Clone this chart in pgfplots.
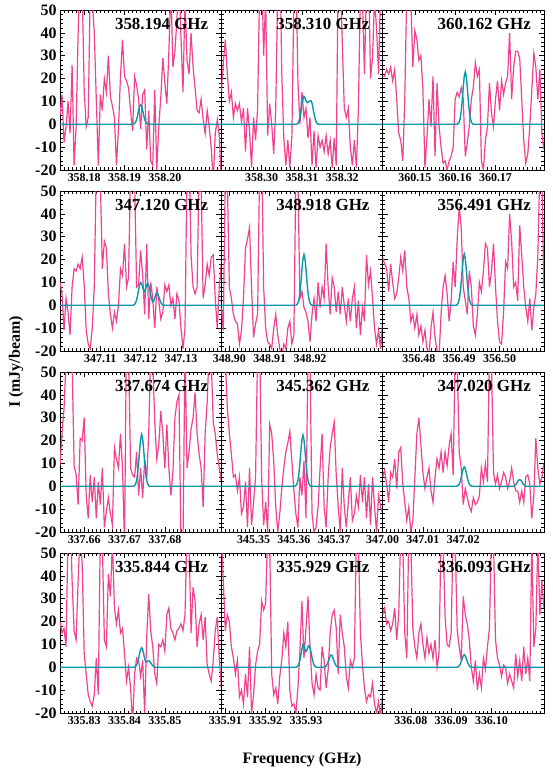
\documentclass[border=0pt]{standalone}
\usepackage{fontspec}
\setmainfont{Liberation Serif}
\usepackage{pgfplots}
\pgfplotsset{compat=1.18}

\definecolor{specpink}{RGB}{240,66,142}
\definecolor{modteal}{RGB}{10,150,172}

\pgfplotsset{
  panel/.style={
    scale only axis, width=161.3bp, height=160bp, anchor=north west,
    xmin=-20, xmax=20, ymin=-20, ymax=50,
    ytick={-20,-10,...,50},
    minor ytick={-20,-18,...,50}, minor xtick={-20,-19,...,20},
    tick align=inside, tick pos=both,
    major tick length=5bp, minor tick length=2.5bp,
    tick style={black, line width=0.6bp},
    axis line style={line width=0.8bp},
    /pgf/number format/assume math mode=true,
    yticklabel style={font=\fontsize{16}{16}\selectfont\bfseries},
    xticklabel style={font=\fontsize{12}{12}\selectfont\bfseries},
  },
  nolab/.style={yticklabel=\empty},
}
\tikzset{ptitle/.style={anchor=north east, inner sep=0pt, font=\fontsize{17}{17}\selectfont\bfseries}}

% spectrum: one value per 0.5 MHz channel, offset -20..20 MHz from the line centre
\newcommand{\spec}[1]{\addplot[specpink, line width=1.2bp] table[row sep=\\, header=false, x expr=\coordindex*0.5-20, y index=0] {#1};}
\newcommand{\model}[1]{\addplot[modteal, line width=1.4bp] coordinates {#1};}

\begin{document}
\begin{tikzpicture}
\useasboundingbox (0,0) rectangle (553bp,-775bp);

% ---- row 1
\begin{axis}[panel, at={(60bp,-10bp)}, xtick={-14,-4,6}, xticklabels={358.18,358.19,358.20}]
\spec{4\\13\\-8\\-1\\10\\-4\\26\\-18\\-1\\40\\70\\60\\15\\-1\\3\\60\\55\\40\\11\\-18\\13\\6\\20\\14\\30\\12\\8\\3\\-18\\-2\\21\\37\\21\\19\\16\\6\\-3\\21\\17\\11\\-2\\13\\15\\-11\\6\\-16\\-18\\15\\-20\\-1\\12\\29\\18\\9\\32\\60\\25\\32\\46\\65\\38\\14\\55\\28\\22\\40\\25\\16\\6\\5\\11\\2\\-4\\6\\-1\\-10\\-25\\-4\\2\\-5\\-25\\}
\model{(-20,0)(-2,0)(-1.75,0.1)(-1.5,0.4)(-1.25,1.0)(-1,2.1)(-0.75,3.9)(-0.5,6.1)(-0.25,7.9)(0,8.6)(0.25,7.9)(0.5,6.1)(0.75,3.9)(1,2.1)(1.25,1.0)(1.5,0.4)(1.75,0.1)(2,0)(20,0)}
\node[ptitle] at (rel axis cs:0.92,0.95) {358.194 GHz};
\end{axis}

\begin{axis}[panel, nolab, at={(221.3bp,-10bp)}, xtick={-10,0,10}, xticklabels={358.30,358.31,358.32}]
\spec{14\\27\\37\\22\\10\\14\\3\\9\\6\\9\\1\\7\\-12\\7\\-3\\-19\\3\\-7\\7\\60\\70\\30\\55\\-5\\9\\0\\-13\\7\\60\\80\\22\\-6\\-18\\-7\\-19\\-5\\55\\70\\19\\0\\14\\3\\7\\-6\\3\\-18\\-3\\-19\\-5\\-10\\-7\\-12\\-5\\-13\\-7\\-19\\-6\\-18\\70\\65\\36\\7\\3\\7\\-10\\-18\\-7\\-19\\7\\60\\55\\22\\60\\70\\20\\29\\55\\42\\22\\60\\55\\}
\model{(-20,0)(-1.25,0)(-1,0.5)(-0.75,1.4)(-0.5,3.0)(-0.25,5.5)(0,8.5)(0.25,11.0)(0.5,12.2)(0.75,11.6)(1,10.3)(1.25,9.6)(1.5,9.5)(1.75,9.9)(2,10.2)(2.25,10.3)(2.5,9.2)(2.75,7.1)(3,4.6)(3.25,2.5)(3.5,1.1)(3.75,0.4)(4,0.1)(4.25,0)(20,0)}
\node[ptitle] at (rel axis cs:0.92,0.95) {358.310 GHz};
\end{axis}

\begin{axis}[panel, nolab, at={(382.6bp,-10bp)}, xtick={-12,-2,8}, xticklabels={360.15,360.16,360.17}]
\spec{21\\21\\24\\22\\25\\19\\24\\11\\-4\\-7\\-16\\11\\60\\70\\55\\25\\41\\37\\28\\30\\15\\-19\\-6\\11\\-1\\21\\-14\\18\\-1\\-10\\-17\\-16\\-20\\-16\\-14\\-10\\11\\14\\12\\16\\11\\-14\\-8\\-1\\11\\16\\27\\21\\24\\-16\\-20\\-7\\-1\\18\\5\\-1\\11\\19\\6\\19\\13\\18\\21\\40\\11\\25\\32\\32\\29\\11\\-7\\-17\\-13\\-1\\15\\31\\25\\11\\24\\-4\\-11\\}
\model{(-20,0)(-1.5,0)(-1.25,0.3)(-1,1.0)(-0.75,2.6)(-0.5,5.7)(-0.25,10.5)(0,16.2)(0.25,21.0)(0.5,22.9)(0.75,21.0)(1,16.2)(1.25,10.5)(1.5,5.7)(1.75,2.6)(2,1.0)(2.25,0.3)(2.5,0)(20,0)}
\node[ptitle] at (rel axis cs:0.92,0.95) {360.162 GHz};
\end{axis}

% ---- row 2
\begin{axis}[panel, at={(60bp,-191bp)}, xtick={-10,0,10}, xticklabels={347.11,347.12,347.13}]
\spec{10\\5\\-11\\3\\-3\\-13\\8\\16\\15\\18\\16\\21\\9\\-11\\-17\\-19\\-10\\8\\60\\70\\55\\16\\28\\25\\5\\-4\\-10\\-3\\-7\\0\\16\\13\\27\\8\\12\\60\\75\\55\\8\\9\\24\\13\\-4\\27\\-6\\10\\3\\-10\\8\\2\\-6\\-3\\9\\6\\9\\0\\3\\-6\\5\\2\\-10\\-19\\-10\\60\\70\\22\\8\\5\\8\\60\\55\\3\\9\\18\\13\\21\\22\\3\\-10\\8\\18\\}
\model{(-20,0)(-2,0)(-1.75,0.1)(-1.5,0.4)(-1.25,1.1)(-1,2.4)(-0.75,4.5)(-0.5,6.9)(-0.25,9.0)(0,9.9)(0.25,9.4)(0.5,8.0)(0.75,6.6)(1,6.0)(1.25,7.3)(1.5,9.0)(1.75,9.6)(2,8.7)(2.25,6.8)(2.5,4.4)(2.75,2.5)(3,1.4)(3.25,1.8)(3.5,3.3)(3.75,4.8)(4,5.3)(4.25,4.9)(4.5,3.75)(4.75,2.4)(5,1.3)(5.25,0.6)(5.5,0.2)(5.75,0.1)(6,0)(20,0)}
\node[ptitle] at (rel axis cs:0.92,0.95) {347.120 GHz};
\end{axis}

\begin{axis}[panel, nolab, at={(221.3bp,-191bp)}, xtick={-18,-8,2}, xticklabels={348.90,348.91,348.92}]
\spec{-1\\-11\\60\\55\\8\\3\\-4\\-7\\-8\\-17\\-11\\3\\25\\29\\34\\8\\-14\\-8\\-4\\60\\70\\8\\-10\\-16\\-17\\-19\\-10\\-4\\-13\\-19\\-22\\-17\\-19\\-10\\-7\\-17\\-13\\60\\55\\3\\6\\-1\\-3\\-7\\-16\\-4\\3\\-7\\10\\-1\\8\\3\\27\\8\\-4\\12\\8\\-3\\6\\-4\\8\\0\\-7\\3\\-7\\3\\8\\-10\\2\\-13\\-1\\-7\\22\\9\\15\\3\\-10\\-17\\-11\\-19\\-7\\}
\model{(-20,0)(-1.5,0)(-1.25,0.3)(-1,1.0)(-0.75,2.5)(-0.5,5.5)(-0.25,10.2)(0,15.7)(0.25,20.4)(0.5,22.2)(0.75,20.4)(1,15.7)(1.25,10.2)(1.5,5.5)(1.75,2.5)(2,1.0)(2.25,0.3)(2.5,0)(20,0)}
\node[ptitle] at (rel axis cs:0.92,0.95) {348.918 GHz};
\end{axis}

\begin{axis}[panel, nolab, at={(382.6bp,-191bp)}, xtick={-11,-1,9}, xticklabels={356.48,356.49,356.50}]
\spec{21\\18\\16\\6\\18\\10\\3\\5\\12\\21\\15\\24\\8\\3\\-7\\-4\\-10\\-4\\-13\\-9\\-16\\-11\\-19\\-22\\-10\\-3\\-14\\-20\\-22\\-4\\8\\13\\5\\-7\\2\\19\\8\\29\\43\\34\\8\\2\\-4\\15\\8\\-9\\-13\\-4\\10\\6\\15\\27\\25\\8\\15\\27\\8\\-7\\-16\\-17\\-3\\19\\16\\40\\28\\8\\10\\2\\35\\22\\8\\-1\\-7\\3\\-11\\-1\\5\\22\\60\\55\\8\\}
\model{(-20,0)(-1.75,0)(-1.5,0.3)(-1.25,1.0)(-1,2.6)(-0.75,5.6)(-0.5,10.3)(-0.25,15.8)(0,20.5)(0.25,22.4)(0.5,20.5)(0.75,15.8)(1,10.3)(1.25,5.6)(1.5,2.6)(1.75,1.0)(2,0.3)(2.25,0)(20,0)}
\node[ptitle] at (rel axis cs:0.92,0.95) {356.491 GHz};
\end{axis}

% ---- row 3
\begin{axis}[panel, at={(60bp,-372bp)}, xtick={-14,-4,6}, xticklabels={337.66,337.67,337.68}]
\spec{9\\23\\34\\55\\70\\65\\55\\9\\5\\-8\\21\\20\\30\\-4\\-14\\5\\-7\\4\\-14\\2\\-8\\8\\-18\\-11\\-5\\-12\\-17\\17\\12\\8\\23\\8\\-25\\70\\60\\8\\5\\4\\15\\-4\\8\\-5\\12\\3\\23\\60\\55\\28\\12\\18\\33\\23\\8\\27\\8\\-4\\6\\30\\37\\40\\-25\\-25\\60\\8\\15\\25\\30\\41\\23\\14\\8\\-9\\23\\37\\60\\55\\28\\23\\14\\8\\2\\}
\model{(-20,0)(-1.75,0)(-1.5,0.3)(-1.25,1.0)(-1,2.6)(-0.75,5.7)(-0.5,10.4)(-0.25,16.0)(0,20.8)(0.25,22.7)(0.5,20.8)(0.75,16.0)(1,10.4)(1.25,5.7)(1.5,2.6)(1.75,1.0)(2,0.3)(2.25,0)(20,0)}
\node[ptitle] at (rel axis cs:0.92,0.95) {337.674 GHz};
\end{axis}

\begin{axis}[panel, nolab, at={(221.3bp,-372bp)}, xtick={-12,-2,8}, xticklabels={345.35,345.36,345.37}]
\spec{60\\70\\55\\34\\23\\14\\4\\5\\-2\\4\\-12\\-9\\2\\-18\\8\\-17\\-7\\4\\60\\65\\4\\-17\\-7\\-20\\27\\23\\11\\-9\\-20\\-12\\-1\\8\\15\\19\\24\\11\\-2\\-12\\-18\\4\\-4\\11\\-14\\60\\55\\-12\\-20\\-18\\-9\\8\\23\\-9\\-18\\4\\17\\23\\28\\5\\-9\\-20\\8\\-9\\-18\\-7\\4\\-15\\-12\\-4\\-9\\5\\-7\\4\\-14\\1\\-17\\4\\-9\\-20\\-4\\-9\\-12\\}
\model{(-20,0)(-1.75,0)(-1.5,0.3)(-1.25,1.0)(-1,2.6)(-0.75,5.6)(-0.5,10.3)(-0.25,15.8)(0,20.5)(0.25,22.4)(0.5,20.5)(0.75,15.8)(1,10.3)(1.25,5.6)(1.5,2.6)(1.75,1.0)(2,0.3)(2.25,0)(20,0)}
\node[ptitle] at (rel axis cs:0.92,0.95) {345.362 GHz};
\end{axis}

\begin{axis}[panel, nolab, at={(382.6bp,-372bp)}, xtick={-20,-10,0}, xticklabels={347.00,347.01,347.02}]
\spec{4\\7\\1\\-7\\6\\4\\12\\-1\\15\\17\\1\\-7\\-15\\-9\\-20\\-15\\4\\23\\30\\18\\6\\-1\\4\\8\\-2\\-7\\4\\12\\8\\15\\6\\15\\9\\18\\23\\5\\60\\55\\15\\8\\-8\\-1\\-5\\-9\\-11\\-5\\-8\\-7\\-4\\8\\2\\10\\2\\60\\55\\6\\1\\5\\-1\\2\\6\\4\\-1\\2\\8\\2\\-2\\-2\\-7\\-2\\-7\\4\\5\\1\\-14\\-4\\21\\8\\1\\4\\10\\}
\model{(-20,0)(-1.75,0)(-1.5,0.1)(-1.25,0.4)(-1,1.0)(-0.75,2.1)(-0.5,3.9)(-0.25,6.0)(0,7.8)(0.25,8.5)(0.5,7.8)(0.75,6.0)(1,3.9)(1.25,2.1)(1.5,1.0)(1.75,0.4)(2,0.1)(2.25,0)(12.5,0)(12.75,0.3)(13,0.7)(13.25,1.3)(13.5,2.1)(13.75,2.7)(14,2.9)(14.25,2.7)(14.5,2.1)(14.75,1.3)(15,0.7)(15.25,0.3)(15.5,0)(20,0)}
\node[ptitle] at (rel axis cs:0.92,0.95) {347.020 GHz};
\end{axis}

% ---- row 4
\begin{axis}[panel, at={(60bp,-553bp)}, xtick={-14,-4,6}, xticklabels={335.83,335.84,335.85}]
\spec{20\\15\\17\\9\\60\\70\\38\\16\\12\\38\\60\\45\\6\\-3\\-12\\-15\\-17\\-12\\4\\-12\\60\\55\\12\\9\\41\\31\\55\\26\\19\\25\\15\\17\\6\\-6\\0\\-9\\-25\\-3\\4\\3\\-4\\3\\-20\\13\\32\\16\\9\\-3\\-7\\10\\9\\12\\7\\23\\26\\17\\15\\12\\16\\17\\19\\16\\23\\60\\55\\15\\35\\29\\9\\19\\23\\12\\22\\1\\-3\\-6\\3\\16\\22\\4\\-9\\}
\model{(-20,0)(-1.75,0)(-1.5,0.1)(-1.25,0.4)(-1,1.0)(-0.75,2.1)(-0.5,3.9)(-0.25,6.1)(0,7.9)(0.25,8.6)(0.5,7.8)(0.75,5.8)(1,3.6)(1.25,2.3)(1.5,2.3)(1.75,2.7)(2,2.9)(2.25,2.6)(2.5,2.0)(2.75,1.3)(3,0.7)(3.25,0.3)(3.5,0.1)(3.75,0)(20,0)}
\node[ptitle] at (rel axis cs:0.92,0.95) {335.844 GHz};
\end{axis}

\begin{axis}[panel, nolab, at={(221.3bp,-553bp)}, xtick={-19,-9,1}, xticklabels={335.91,335.92,335.93}]
\spec{60\\38\\16\\23\\20\\9\\4\\-3\\3\\-13\\-10\\-16\\-3\\-13\\9\\-20\\-12\\1\\7\\10\\29\\25\\28\\60\\55\\-3\\-12\\-9\\-16\\-4\\3\\15\\9\\20\\-10\\-17\\-16\\-20\\-9\\7\\29\\4\\17\\31\\9\\-7\\-12\\-3\\-9\\-10\\9\\3\\-9\\-1\\15\\23\\25\\17\\-3\\23\\15\\9\\-4\\-9\\3\\0\\4\\60\\55\\15\\1\\-9\\-15\\-12\\-13\\-7\\-16\\-20\\-15\\-22\\-12\\}
\model{(-20,0)(-1.5,0)(-1.25,0.2)(-1,0.6)(-0.75,1.5)(-0.5,3.1)(-0.25,5.5)(0,8.2)(0.25,9.9)(0.5,9.3)(0.75,7.8)(1,6.9)(1.25,7.6)(1.5,9.0)(1.75,9.5)(2,8.5)(2.25,6.6)(2.5,4.3)(2.75,2.3)(3,1.0)(3.25,0.4)(3.5,0.1)(3.75,0)(5.5,0)(5.75,0.2)(6,0.6)(6.25,1.3)(6.5,2.5)(6.75,3.8)(7,5.0)(7.25,5.4)(7.5,5.0)(7.75,3.8)(8,2.5)(8.25,1.3)(8.5,0.6)(8.75,0.2)(9,0)(20,0)}
\node[ptitle] at (rel axis cs:0.92,0.95) {335.929 GHz};
\end{axis}

\begin{axis}[panel, nolab, at={(382.6bp,-553bp)}, xtick={-13,-3,7}, xticklabels={336.08,336.09,336.10}]
\spec{23\\26\\19\\20\\16\\19\\26\\12\\23\\60\\55\\15\\4\\60\\55\\17\\9\\4\\15\\19\\10\\4\\13\\6\\10\\4\\12\\0\\6\\60\\55\\22\\10\\9\\15\\60\\55\\16\\9\\3\\31\\23\\19\\12\\0\\-6\\3\\-10\\-3\\-9\\4\\-1\\9\\17\\60\\55\\12\\4\\1\\-4\\1\\0\\-7\\-3\\-6\\-9\\6\\-4\\3\\-6\\9\\-3\\4\\-6\\55\\9\\17\\55\\23\\38\\26\\}
\model{(-20,0)(-1.75,0)(-1.5,0.1)(-1.25,0.2)(-1,0.6)(-0.75,1.4)(-0.5,2.5)(-0.25,3.9)(0,5.0)(0.25,5.5)(0.5,5.0)(0.75,3.9)(1,2.5)(1.25,1.4)(1.5,0.6)(1.75,0.2)(2,0.1)(2.25,0)(20,0)}
\node[ptitle] at (rel axis cs:0.92,0.95) {336.093 GHz};
\end{axis}

\node[rotate=90, font=\fontsize{16}{16}\selectfont\bfseries] at (16bp,-362bp) {I (mJy/beam)};
\node[font=\fontsize{16}{16}\selectfont\bfseries] at (302bp,-760bp) {Frequency (GHz)};
\end{tikzpicture}
\end{document}
